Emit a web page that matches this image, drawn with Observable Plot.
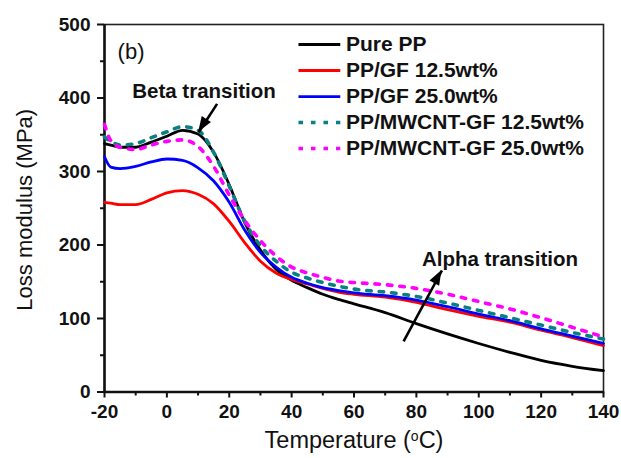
<!DOCTYPE html>
<html>
<head>
<meta charset="utf-8">
<script src="https://cdn.jsdelivr.net/npm/d3@7"></script>
<script src="https://cdn.jsdelivr.net/npm/@observablehq/plot@0.6"></script>
<style>
  html, body { margin: 0; padding: 0; background: #fff; }
  #chart svg { display: block; }
</style>
</head>
<body>
<div id="chart"></div>
<script>
// ---- data ----
const temperature = [-20,-18,-15,-10,-5,0,5,10,15,20,25,30,35,40,45,50,55,60,70,80,90,100,110,120,130,140];
const purePP      = [338,336,333,333,340,348,356,351,326,282,230,193,167,152,142,133,126,120,108,93,79,66,54,43,35,29];
const ppGF125     = [258,257,255,255,262,271,274,269,256,232,203,178,162,153,147,141,136,133,129,122,112,103,95,84,74,63];
const ppGF250     = [320,306,304,307,313,317,315,305,287,258,220,190,170,156,148,142,138,135,131,125,116,106,97,86,76,66];
const ppMW125     = [347,341,336,338,346,354,361,356,326,280,232,199,178,163,155,149,144,140,136,130,121,111,101,91,81,72];
const ppMW250     = [364,342,333,330,336,341,343,334,307,268,233,206,185,170,162,156,151,149,146,141,133,123,113,101,88,75];

const seriesNames  = ["Pure PP","PP/GF 12.5wt%","PP/GF 25.0wt%","PP/MWCNT-GF 12.5wt%","PP/MWCNT-GF 25.0wt%"];
const seriesValues = [purePP, ppGF125, ppGF250, ppMW125, ppMW250];
const seriesColors = ["#000000","#ff0000","#0000ff","#0a8080","#ff00ff"];
const seriesDash   = [null,null,null,"4.5,8","4.5,8"];

const xTicks = [-20,0,20,40,60,80,100,120,140];
const xMinor = [-10,10,30,50,70,90,110,130];
const yTicks = [0,100,200,300,400,500];
const yMinor = [50,150,250,350,450];

// annotations (data coordinates)
const annotations = [
  {text:"(b)", x:-11.5, y:462, weight:"normal", size:22},
  {text:"Beta transition", x:11.9, y:409, weight:"bold", size:20.5},
  {text:"Alpha transition", x:106.8, y:180, weight:"bold", size:20.5}
];
const arrows = [
  {x1:16.1, y1:392, x2:10.2, y2:353.5},
  {x1:75.9, y1:69, x2:88.2, y2:165.3}
];

// legend layout (data coordinates of the plot frame)
const legendX1 = 42.2, legendX2 = 55.6, legendTextX = 57.4, legendTop = 472.8, legendStep = 35.4;

// ---- build ----
const rows = [];
seriesNames.forEach((s, i) => temperature.forEach((t, j) => rows.push({series: s, idx: i, t, v: seriesValues[i][j]})));
const legendRows = seriesNames.map((s, i) => ({series: s, idx: i, y: legendTop - i * legendStep}));

const lineMarks = seriesNames.map((s, i) => Plot.line(rows.filter(d => d.idx === i), {
  x: "t", y: "v", stroke: seriesColors[i], strokeWidth: seriesDash[i] ? 3.6 : 2.8,
  strokeDasharray: seriesDash[i] || undefined, curve: "monotone-x"
}));
const legendLines = legendRows.map((d) => Plot.link([d], {
  x1: () => legendX1, x2: () => legendX2, y1: "y", y2: "y",
  stroke: seriesColors[d.idx], strokeWidth: seriesDash[d.idx] ? 3.6 : 2.8,
  strokeDasharray: seriesDash[d.idx] || undefined
}));

const plot = Plot.plot({
  width: 621,
  height: 458,
  marginLeft: 104,
  marginRight: 18,
  marginTop: 24,
  marginBottom: 66.5,
  style: {fontFamily: "'Liberation Sans', Arial, sans-serif", fontSize: "19px", fontWeight: "bold", color: "#111", background: "#fff"},
  x: {domain: [-20, 140]},
  y: {domain: [0, 500]},
  marks: [
    Plot.frame({stroke: "#222", strokeWidth: 1.6}),
    Plot.axisX({ticks: xTicks, tickSize: 6, tickPadding: 6, strokeWidth: 2, label: null, tickFormat: d => String(d)}),
    Plot.axisX({ticks: xMinor, tickSize: 4, strokeWidth: 2, tickFormat: () => "", label: null}),
    Plot.axisY({ticks: yTicks, tickSize: 7, tickPadding: 7, strokeWidth: 2, label: null, tickFormat: d => String(d)}),
    Plot.axisY({ticks: yMinor, tickSize: 4, strokeWidth: 2, tickFormat: () => "", label: null}),
    Plot.ruleX([-20], {stroke: "#111", strokeWidth: 2.5}),
    Plot.ruleY([0], {stroke: "#111", strokeWidth: 2.5}),
    ...lineMarks,
    ...legendLines,
    Plot.text(legendRows, {x: () => legendTextX, y: "y", text: "series", textAnchor: "start", fontSize: 21, fontWeight: "bold", fill: "#111"}),
    ...annotations.map(a => Plot.text([a], {x: "x", y: "y", text: "text", fontSize: a.size, fontWeight: a.weight, fill: "#111"})),
    Plot.link(arrows, {x1: "x1", y1: "y1", x2: "x2", y2: "y2", stroke: "#000", strokeWidth: 2.6}),
    Plot.text(["Temperature (°C)"], {frameAnchor: "bottom", dy: 56, fontSize: 23.5, fontWeight: "normal", fill: "#111"}),
    Plot.text(["Loss modulus (MPa)"], {frameAnchor: "left", textAnchor: "middle", dx: -80, dy: 1.5, rotate: -90, fontSize: 22, fontWeight: "normal", fill: "#111"})
  ]
});
document.getElementById("chart").appendChild(plot);

// filled arrow heads, positioned through the plot's own scales
const sx = plot.scale("x"), sy = plot.scale("y");
const svg = d3.select(plot);
arrows.forEach(a => {
  const x1 = sx.apply(a.x1), y1 = sy.apply(a.y1), x2 = sx.apply(a.x2), y2 = sy.apply(a.y2);
  const ang = Math.atan2(y2 - y1, x2 - x1);
  const L = 15, W = 5.5;
  const bx = x2 - L * Math.cos(ang), by = y2 - L * Math.sin(ang);
  const px = -Math.sin(ang) * W, py = Math.cos(ang) * W;
  svg.append("polygon")
    .attr("points", `${x2},${y2} ${bx + px},${by + py} ${bx - px},${by - py}`)
    .attr("fill", "#000");
});

// superscript "o" in the x-axis title
svg.selectAll("text").each(function() {
  if (this.textContent === "Temperature (°C)") {
    const t = d3.select(this);
    t.text("");
    t.append("tspan").text("Temperature (");
    t.append("tspan").attr("font-size", 14).attr("dy", -7).text("o");
    t.append("tspan").attr("dy", 7).text("C)");
  }
});
</script>
</body>
</html>
